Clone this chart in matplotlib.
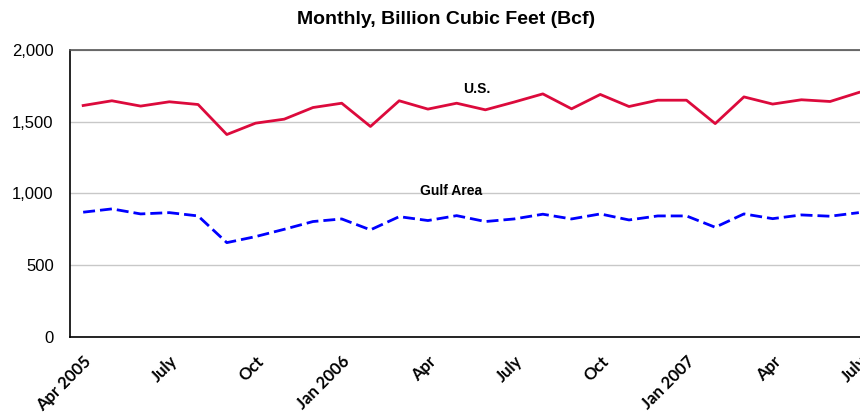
import matplotlib
matplotlib.use("Agg")
import matplotlib.pyplot as plt
from matplotlib.ticker import FuncFormatter

months = ["Apr 2005", "May", "Jun", "July", "Aug", "Sep", "Oct", "Nov", "Dec",
          "Jan 2006", "Feb", "Mar", "Apr", "May", "Jun", "July", "Aug", "Sep",
          "Oct", "Nov", "Dec", "Jan 2007", "Feb", "Mar", "Apr", "May", "Jun", "July"]
us = [1612, 1645, 1608, 1638, 1619, 1410, 1489, 1517, 1598, 1628, 1466, 1645,
      1587, 1628, 1582, 1636, 1693, 1589, 1689, 1605, 1649, 1649, 1486, 1672,
      1622, 1652, 1640, 1703]
gulf = [869, 892, 857, 866, 843, 657, 699, 750, 804, 822, 746, 838,
        811, 845, 804, 822, 855, 822, 857, 815, 843, 843, 764, 857,
        824, 850, 841, 866]
tick_idx = [0, 3, 6, 9, 12, 15, 18, 21, 24, 27]
yticks = [0, 500, 1000, 1500, 2000]

plt.rcParams['font.family'] = ['Liberation Sans', 'DejaVu Sans']
fig = plt.figure(figsize=(8.6, 4.15), dpi=100)
ax = fig.add_axes([0.081, 0.188, 0.921, 0.692])

x = list(range(len(months)))
ax.plot(x, us, color='#DC0A3C', lw=2.0, zorder=3)
ax.plot(x, gulf, color='#0000FF', lw=2.0, dashes=(4.3, 1.8), zorder=3)

ax.set_xlim(-0.47, 27.1)
ax.set_ylim(0, 2000)
ax.set_yticks(yticks)
ax.yaxis.set_major_formatter(FuncFormatter(lambda v, p: f"{int(v):,}"))
ax.set_xticks(tick_idx)
ax.set_xticklabels([months[i] for i in tick_idx], rotation=45, ha='right',
                   rotation_mode='anchor', fontweight='bold', fontsize=12,
                   family=['Lato', 'DejaVu Sans'])
ax.tick_params(axis='both', length=0)
ax.tick_params(axis='y', labelsize=12, pad=11.5)
ax.tick_params(axis='x', pad=11.5)
ax.grid(axis='y', color='#C8C8C8', lw=1)
ax.set_axisbelow(True)
for s in ['left', 'bottom']:
    ax.spines[s].set_color('black')
    ax.spines[s].set_linewidth(1.2)
ax.spines['top'].set_color('#555555')
ax.spines['top'].set_linewidth(1.2)
ax.spines['right'].set_visible(False)

ax.text(13.7, 1725, "U.S.", ha='center', va='center', fontsize=10, fontweight='bold')
ax.text(12.8, 1017, "Gulf Area", ha='center', va='center', fontsize=10, fontweight='bold')

fig.text(0.519, 0.952, "Monthly, Billion Cubic Feet (Bcf)", ha='center', va='center',
         fontsize=14, fontweight='bold')

fig.savefig("out.png", dpi=100)
